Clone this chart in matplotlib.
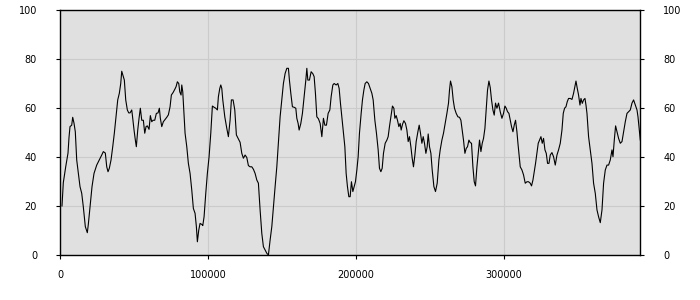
import numpy as np
from matplotlib import pyplot as plt

# sample positions (in thousands) and values
x_k = [1.35, 2.23, 3.86, 5.41, 6.09, 6.77, 7.92, 8.59, 9.47, 10.35, 11.30, 12.65, 13.53, 14.68, 15.76, 17.12,
       18.47, 19.15, 20.30, 21.65, 23.00, 24.83, 26.59, 28.21, 29.30, 30.65, 31.60, 32.48, 33.36, 34.51, 35.66,
       36.74, 37.89, 39.04, 40.12, 41.07, 41.75, 42.83, 43.51, 44.45, 45.54, 46.48, 47.36, 48.51, 48.92, 50.07,
       50.95, 51.62, 52.57, 53.45, 54.33, 55.28, 56.36, 57.31, 58.19, 59.07, 60.22, 61.10, 62.04, 62.92, 64.07,
       65.16, 66.31, 67.19, 67.86, 68.81, 69.89, 71.04, 72.19, 73.28, 74.43, 75.31, 76.46, 77.61, 78.49, 79.37,
       80.31, 80.99, 81.87, 82.34, 83.02, 83.70, 84.58, 85.73, 86.81, 87.96, 89.11, 90.19, 91.34, 92.22, 92.90,
       93.84, 94.72, 96.08, 96.55, 97.43, 98.58, 99.66, 100.81, 101.96, 103.05, 104.20, 105.35, 106.43, 107.11,
       108.05, 108.73, 109.41, 110.08, 111.44, 112.79, 113.87, 115.02, 115.90, 117.05, 118.20, 119.28, 120.43,
       121.79, 122.94, 124.02, 125.17, 126.32, 127.40, 128.55, 129.70, 130.79, 131.94, 133.09, 134.17, 135.32,
       136.47, 137.55, 138.70, 139.85, 140.94, 142.09, 143.24, 144.32, 145.47, 146.62, 147.70, 148.85, 150.00,
       151.08, 152.24, 153.39, 154.47, 155.14, 156.09, 157.17, 158.32, 159.47, 160.15, 161.03, 161.71, 162.86,
       163.94, 165.09, 166.24, 166.92, 167.59, 168.68, 169.83, 170.98, 171.86, 172.74, 173.68, 174.77, 175.92,
       177.07, 178.15, 179.10, 180.18, 181.33, 182.48, 183.36, 184.51, 185.39, 186.74, 187.89, 188.77, 189.65,
       190.60, 191.68, 192.63, 193.51, 194.39, 195.33, 196.21, 197.09, 198.04, 198.92, 199.80, 200.75, 201.63,
       202.51, 203.66, 204.54, 205.48, 206.36, 207.51, 208.60, 209.75, 210.90, 211.78, 212.93, 214.01, 215.16,
       216.04, 216.99, 217.87, 218.75, 219.90, 221.05, 221.92, 222.80, 223.75, 224.83, 225.78, 226.46, 227.34,
       228.22, 229.16, 230.04, 230.72, 231.60, 232.55, 233.63, 234.58, 235.46, 236.34, 237.28, 238.16, 239.04,
       239.99, 240.87, 242.02, 242.90, 243.78, 244.73, 245.61, 246.49, 247.43, 248.31, 248.99, 249.87, 250.82,
       251.70, 252.85, 253.93, 255.08, 256.23, 257.11, 258.26, 259.34, 260.49, 261.64, 262.73, 263.40, 264.08,
       265.02, 265.90, 266.78, 267.93, 269.08, 270.17, 271.11, 271.99, 272.87, 273.82, 274.70, 275.58, 276.53,
       277.41, 278.29, 279.23, 280.12, 280.99, 281.94, 282.82, 283.70, 284.65, 285.53, 286.41, 287.35, 288.23,
       289.11, 290.06, 290.94, 291.82, 292.76, 293.64, 294.52, 295.47, 296.55, 297.70, 298.85, 299.93, 300.88,
       301.76, 302.64, 303.59, 304.47, 305.35, 306.30, 307.18, 308.06, 309.00, 309.68, 310.56, 311.24, 312.39,
       313.47, 314.62, 315.77, 316.85, 318.00, 318.88, 319.83, 320.71, 321.59, 322.53, 323.41, 324.29, 325.24,
       326.12, 327.00, 327.95, 328.83, 329.71, 330.65, 331.53, 332.68, 333.77, 334.92, 336.07, 337.15, 338.30,
       339.45, 340.33, 341.21, 342.16, 343.04, 343.92, 345.07, 346.22, 347.30, 348.25, 348.93, 349.80, 350.68,
       351.63, 352.31, 353.19, 354.07, 355.01, 355.69, 356.37, 357.45, 358.60, 359.75, 360.83, 361.98, 363.13,
       364.22, 365.37, 366.52, 367.60, 368.75, 369.90, 370.98, 372.13, 373.28, 373.96, 374.84, 375.72, 376.66,
       377.75, 378.90, 380.05, 381.13, 382.28, 383.43, 384.51, 385.66, 386.81, 387.89, 389.05, 390.20, 390.87,
       391.75, 392.43]

values = [20, 29.5, 36, 41.6, 48, 52.4, 53, 56.2, 53.8, 50.3, 38.8, 32, 27.9, 25.2, 19.7, 11.6,
          9.1, 12.5, 19.7, 27.9, 33.3, 36.7, 38.8, 40.8, 42.2, 41.6, 36, 34, 35.4, 38.8, 44.2,
          49.7, 56.4, 63.3, 66, 70, 75, 72.8, 71.4, 63.3, 59.2, 58, 58, 59.2, 57.2, 51,
          46.9, 44.2, 51, 55.8, 59.9, 55, 55, 49.7, 52.4, 52.7, 51.3, 56.9, 54.4, 55, 55,
          57.8, 58, 59.9, 55.8, 52.4, 54.4, 55.3, 56.2, 57.2, 60.5, 65.3, 66.3, 67.6, 68.7, 70.7,
          70, 66.6, 65.3, 69.4, 66.6, 59.2, 49.7, 44.2, 37.4, 33.3, 26.5, 19, 17, 11.6, 5.4,
          10.2, 12.9, 12.4, 12, 15.6, 25.2, 33.3, 40.1, 49.7, 60.8, 60.3, 59.9, 59.2, 64.6,
          68, 69.4, 68, 63.3, 56.4, 51.7, 48.3, 55, 63.3, 63.3, 59.2, 49, 47.6,
          46, 41.5, 39.5, 40.8, 39.8, 36.5, 36, 36, 35, 33.3, 30.6, 29.3, 18.4,
          8.8, 3.4, 2, 0.7, 0, 6.1, 11.6, 19.7, 27.9, 36, 45.6, 56.4, 63.3,
          70, 74.1, 76.2, 76.2, 71.4, 66, 60.5, 60.3, 59.9, 55.8, 53.7, 51, 53.7,
          57.8, 64.6, 71.4, 76.2, 71.4, 71.4, 74.8, 74, 72.8, 66, 56.4, 55.6, 53.7,
          48.3, 55.8, 53, 53, 57.8, 59.2, 64.6, 69.4, 70, 69.4, 70, 68, 62,
          56.4, 49.7, 44.2, 33.3, 27.9, 23.8, 23.8, 29.9, 25.9, 27.9, 29.9, 34.7, 40.1,
          49.7, 57.8, 63.3, 67.3, 70, 70.7, 70, 68, 66, 63.3, 55, 49.7, 42.9,
          35.4, 34, 35.4, 41.5, 45.6, 46.9, 48.3, 52.4, 56.4, 60.8, 59.9, 55.8, 56.9,
          55, 52.4, 53.7, 51, 53.3, 54.8, 53.7, 51, 46.3, 48.3, 44.2, 39.5, 36,
          40.8, 46.3, 50.3, 53, 49.7, 45.6, 48.3, 45.6, 41.5, 44.2, 49.4, 44.2, 41.5,
          34.7, 27.9, 25.9, 29.3, 38.8, 42.9, 46.9, 49.7, 53.7, 57.8, 62, 67.3, 71,
          68.7, 63.3, 59.9, 57.8, 56.4, 56.2, 55, 51, 46.9, 41.5, 43.5, 44.2, 46.9,
          45.9, 45.6, 36, 29.9, 28.2, 36, 41.5, 46.9, 42.2, 45.6, 47.6, 51.7, 59.2,
          67.3, 71, 68.4, 63.3, 59.2, 57.1, 62, 59.9, 62, 58.5, 55.8, 57.8, 60.8,
          59.9, 58.5, 57.8, 55, 52.4, 50.3, 53, 55, 50.3, 45.6, 40.1, 36, 34.7,
          32.7, 29.3, 29.9, 29.9, 29.3, 28.2, 30.6, 34, 37.4, 41.5, 45.6, 46.9, 48.3,
          45.6, 47.6, 42.9, 41.5, 37.4, 37.4, 40.8, 41.8, 40.1, 36.7, 40.8, 42.9, 45.6,
          51, 57.8, 59.9, 60.5, 62.6, 63.9, 63.9, 63.5, 66, 68.9, 71, 68, 65.3,
          61.2, 63.9, 61.9, 63.3, 63.9, 61.2, 57.8, 48.3, 42.9, 37.4, 29.3, 25.2, 18.4,
          15.6, 13.2, 18.4, 29.3, 34.7, 36.7, 36.7, 38.8, 42.9, 40.1, 46.9, 52.7, 50.3,
          47.6, 45.6, 46.3, 50.3, 54.4, 57.8, 58.5, 59.2, 62, 63.3, 61.2, 59.2, 56.4,
          51, 46.9]

x_ticks = [0, 100000, 200000, 300000]
y_ticks = [0, 20, 40, 60, 80, 100]

x = np.array(x_k) * 1000

plt.rcParams['font.family'] = ['DejaVu Sans']
fig = plt.figure(figsize=(7, 3), dpi=100)
ax = fig.add_axes([60 / 700, 45 / 300, 580.3 / 700, 245 / 300])
ax.set_facecolor('#e0e0e0')

ax.plot(x, values, color='black', linewidth=0.8)

ax.set_xlim(0, x[-1])
ax.set_ylim(0, 100)
ax.set_xticks(x_ticks)
ax.set_xticklabels([str(t) for t in x_ticks])
ax.set_yticks(y_ticks)
ax.set_yticklabels([str(t) for t in y_ticks])

ax.grid(True, color='#cbcbcb', linewidth=0.8)
ax.set_axisbelow(True)
for s in ax.spines.values():
    s.set_color('black')
    s.set_linewidth(1.0)

ax.tick_params(axis='y', left=True, right=True, labelleft=True, labelright=True,
               length=3, width=0.8, pad=13.5, labelsize=7)
ax.tick_params(axis='x', length=3, width=0.8, pad=8, labelsize=7)

plt.savefig('out.png', dpi=100)
